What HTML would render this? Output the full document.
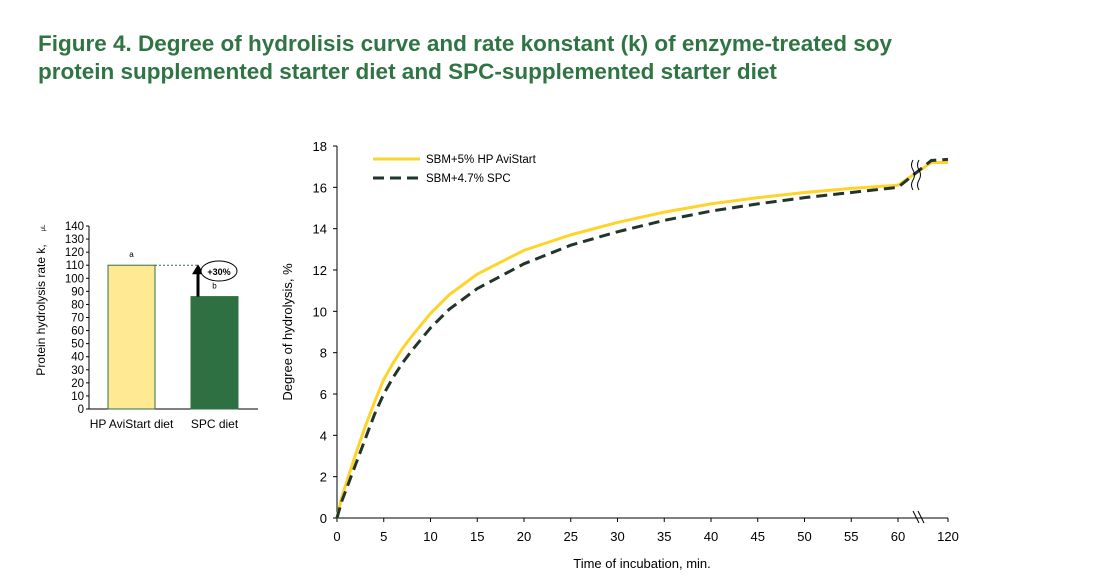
<!DOCTYPE html>
<html><head><meta charset="utf-8"><style>
body{margin:0;background:#fff;font-family:"Liberation Sans",sans-serif;}
#wrap{position:relative;width:1105px;height:574px;overflow:hidden;}
.t{position:absolute;left:38px;font-weight:bold;font-size:22.5px;color:#2F7443;white-space:nowrap;}
</style></head><body>
<div id="wrap">
<div class="t" style="top:31px">Figure 4. Degree of hydrolisis curve and rate konstant (k) of enzyme-treated soy</div>
<div class="t" style="top:59px">protein supplemented starter diet and SPC-supplemented starter diet</div>
<svg id="svg" width="1105" height="574" style="position:absolute;left:0;top:0"></svg>
</div>
<script>
// bar chart data
const barCats=["HP AviStart diet","SPC diet"];
const barVals=[110,86];
const barLetters=["a","b"];
const barTicks=[0,10,20,30,40,50,60,70,80,90,100,110,120,130,140];
// line chart data
const times=[0,0.5,1,2,3,4,5,6,7,8,10,12,15,20,25,30,35,40,45,50,55,60,100,120];
const seriesHP=[0,1,1.7,3.1,4.4,5.6,6.7,7.5,8.2,8.8,9.9,10.8,11.8,12.95,13.7,14.3,14.8,15.2,15.5,15.75,15.95,16.1,17.2,17.2];
const seriesSPC=[0,0.8,1.4,2.6,3.8,5.0,6.0,6.8,7.5,8.1,9.2,10.1,11.1,12.3,13.2,13.85,14.4,14.85,15.2,15.5,15.75,16.0,17.3,17.35];
const xTicks=[0,5,10,15,20,25,30,35,40,45,50,55,60,120];
const yTicks=[0,2,4,6,8,10,12,14,16,18];

const S=document.getElementById('svg');const NS='http://www.w3.org/2000/svg';
function mk(tag,attrs,name,parent){const e=document.createElementNS(NS,tag);for(const k in attrs)e.setAttribute(k,attrs[k]);


(parent||S).appendChild(e);return e;}
function txt(x,y,s,name,size,anchor,extra){const e=mk('text',Object.assign({x:x,y:y,'font-size':size||12,'text-anchor':anchor||'middle','font-family':'Liberation Sans, sans-serif',fill:'#000'},extra||{}),name);e.textContent=s;return e;}

// ---- bar chart
const by=v=>409-v*(183/140);
mk('line',{x1:89,y1:226,x2:89,y2:409,stroke:'#000','stroke-width':1},'bar-y-axis');
mk('line',{x1:89,y1:409,x2:258,y2:409,stroke:'#000','stroke-width':1},'bar-x-axis');
barTicks.forEach(v=>{mk('line',{x1:86,y1:by(v),x2:89,y2:by(v),stroke:'#000'},'bar-y-tick');txt(84,by(v)+4,String(v),'bar-y-tick-label',11.5,'end');});
const bx=[108,191],bw=47;
barVals.forEach((v,i)=>{
 mk('rect',{x:bx[i],y:by(v),width:bw,height:409-by(v),fill:i?'#2F7043':'#FFE993',stroke:'#2F7043','stroke-width':1},'bar-'+(i?'spc':'hp-avistart'));
 txt(bx[i]+bw/2,by(v)-8,barLetters[i],'bar-significance-letter',8);
 txt(bx[i]+bw/2,428,barCats[i],'bar-category-label',12);
});
mk('line',{x1:bx[0]+bw,y1:by(barVals[0]),x2:199,y2:by(barVals[0]),stroke:'#2F7043','stroke-dasharray':'2,2'},'reference-dotted-line');
mk('line',{x1:198,y1:by(barVals[1]),x2:198,y2:by(barVals[0])+8,stroke:'#000','stroke-width':3},'increase-arrow-shaft');
mk('polygon',{points:`192,${by(barVals[0])+9} 204,${by(barVals[0])+9} 198,${by(barVals[0])-1}`,fill:'#000'},'increase-arrow-head');
mk('ellipse',{cx:219,cy:271,rx:18,ry:10,fill:'#fff',stroke:'#000'},'increase-label-bubble');
txt(219,275,'+30%','increase-label',9,'middle',{'font-weight':'bold'});
txt(0,0,'Protein hydrolysis rate k, ','bar-y-axis-title',12,'middle',{transform:'translate(45,310) rotate(-90)'});
txt(0,0,'μL','bar-y-unit-num',6,'middle',{transform:'translate(45,228) rotate(-90)'});

// ---- line chart
const X=t=>t<=60?337+t*(561/60):898+(t-60)*(50/60);
const Y=v=>518-v*(372/18);
mk('line',{x1:337,y1:146,x2:337,y2:518,stroke:'#000'},'y-axis');
mk('line',{x1:337,y1:518,x2:948,y2:518,stroke:'#000'},'x-axis');
yTicks.forEach(v=>{mk('line',{x1:333,y1:Y(v),x2:337,y2:Y(v),stroke:'#000'},'y-tick');txt(327,Y(v)+5,String(v),'y-tick-label',13,'end');});
xTicks.forEach(v=>{mk('line',{x1:X(v),y1:518,x2:X(v),y2:522,stroke:'#000'},'x-tick');txt(X(v),541,String(v),'x-tick-label',13);});
txt(0,0,'Degree of hydrolysis, %','y-axis-title',13,'middle',{transform:'translate(292,332) rotate(-90)'});
txt(642,568,'Time of incubation, min.','x-axis-title',13);
const pts=a=>a.map((v,i)=>X(times[i])+','+Y(v)).join(' ');
mk('polyline',{points:pts(seriesHP),fill:'none',stroke:'#FFD42A','stroke-width':3},'line-hp-avistart');
mk('polyline',{points:pts(seriesSPC),fill:'none',stroke:'#21352A','stroke-width':3,'stroke-dasharray':'11,6'},'line-spc');
// break marks
mk('path',{d:'M913,160 q-3,5 0,10 q3,5 0,10 q-3,5 0,10 M919,160 q-3,5 0,10 q3,5 0,10 q-3,5 0,10',fill:'none',stroke:'#000','stroke-width':1},'chart-break-marks');
mk('path',{d:'M913,511 l6,12 M918,511 l6,12',stroke:'#000',fill:'none'},'x-axis-break-marks');
// legend
mk('line',{x1:373,y1:159,x2:420,y2:159,stroke:'#FFD42A','stroke-width':3},'legend-swatch-hp');
txt(426,163,'SBM+5% HP AviStart','legend-label-hp',11.5,'start');
mk('line',{x1:373,y1:178,x2:420,y2:178,stroke:'#21352A','stroke-width':3,'stroke-dasharray':'11,6'},'legend-swatch-spc');
txt(426,182,'SBM+4.7% SPC','legend-label-spc',11.5,'start');
</script>
</body></html>
